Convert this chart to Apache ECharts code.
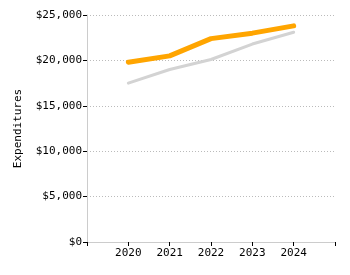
<!DOCTYPE html>
<html>
<head>
<meta charset="utf-8">
<script src="https://cdn.jsdelivr.net/npm/echarts@6/dist/echarts.min.js"></script>
<style>
  html, body { margin: 0; padding: 0; background: #fff; }
  #chart { width: 350px; height: 275px; }
</style>
</head>
<body>
<div id="chart"></div>
<script>
// data
const years = [2020, 2021, 2022, 2023, 2024]
const grayValues = [17500, 19000, 20100, 21800, 23100]
const orangeValues = [19800, 20500, 22400, 23000, 23800]

const chart = echarts.init(document.getElementById('chart'))

const toPairs = (vals) => years.map((y, i) => [y, vals[i]])

const option = {
  animation: false,
  textStyle: { fontFamily: 'DejaVu Sans Mono' },
  grid: { left: 87, right: 15, top: 15, bottom: 33 },
  xAxis: {
    type: 'value',
    min: 2019,
    max: 2025,
    interval: 1,
    splitLine: { show: false },
    axisLine: { lineStyle: { color: '#cccccc' } },
    axisTick: { length: 4, lineStyle: { color: '#000' } },
    axisLabel: {
      color: '#000',
      fontSize: 11,
      fontFamily: 'DejaVu Sans Mono',
      margin: 6,
      formatter: (v) => (v >= 2020 && v <= 2024 ? String(v) : '')
    }
  },
  yAxis: {
    type: 'value',
    min: 0,
    max: 25000,
    interval: 5000,
    name: 'Expenditures',
    nameLocation: 'middle',
    nameRotate: 90,
    nameGap: 63,
    nameTextStyle: { color: '#000', fontSize: 11, fontFamily: 'DejaVu Sans Mono' },
    axisLine: { show: true, lineStyle: { color: '#cccccc' } },
    axisTick: { show: true, length: 4, lineStyle: { color: '#000' } },
    axisLabel: {
      color: '#000',
      fontSize: 11,
      fontFamily: 'DejaVu Sans Mono',
      margin: 5,
      formatter: (v) => '$' + v.toLocaleString('en-US')
    },
    splitLine: { lineStyle: { color: '#bbbbbb', type: [1, 2] } }
  },
  series: [
    {
      name: 'gray',
      type: 'line',
      data: toPairs(grayValues),
      symbol: 'none',
      lineStyle: { color: '#d3d3d3', width: 3, cap: 'round' }
    },
    {
      name: 'orange',
      type: 'line',
      data: toPairs(orangeValues),
      symbol: 'none',
      lineStyle: { color: '#ffa500', width: 5, cap: 'round' }
    }
  ]
}
chart.setOption(option)
</script>
</body>
</html>
